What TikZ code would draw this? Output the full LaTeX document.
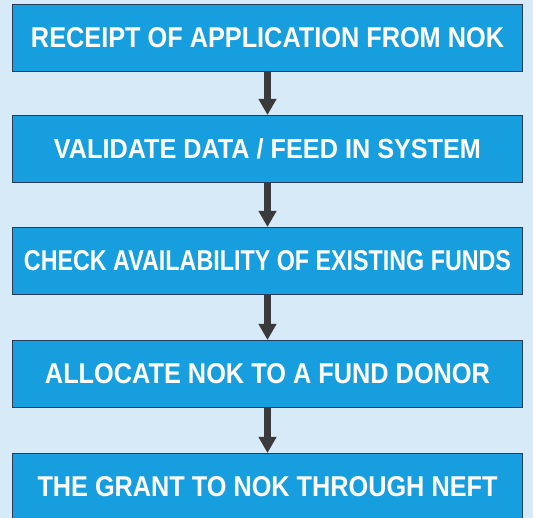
\documentclass[tikz,border=0pt]{standalone}
\usepackage{fontspec}
\setmainfont{Liberation Sans}
\usepackage{graphicx}
\usetikzlibrary{arrows.meta}
\definecolor{bgblue}{RGB}{214,234,247}
\definecolor{boxblue}{RGB}{22,158,222}
\definecolor{boxedge}{RGB}{40,60,90}
\definecolor{arrowgray}{RGB}{58,58,58}
\newcommand{\fittext}[2]{\resizebox{#1}{20pt}{\bfseries #2}}
\begin{document}
\begin{tikzpicture}[x=1pt,y=1pt,
  stepbox/.style={draw=boxedge, line width=1pt, fill=boxblue, text=white,
    minimum width=510pt, minimum height=67pt, inner sep=0pt, anchor=north west},
  flowarrow/.style={draw=arrowgray, line width=7pt,
    -{Triangle[width=17pt,length=16pt]}, shorten >=0pt}
]
\useasboundingbox (0,0) rectangle (533,-518);
\clip (0,0) rectangle (533,-518);
\fill[bgblue] (0,0) rectangle (533,-518);
\node[stepbox] (b1) at (12,-4)   {\fittext{473pt}{RECEIPT OF APPLICATION FROM NOK}};
\node[stepbox] (b2) at (12,-115) {\fittext{427pt}{VALIDATE DATA / FEED IN SYSTEM}};
\node[stepbox] (b3) at (12,-227) {\fittext{487pt}{CHECK AVAILABILITY OF EXISTING FUNDS}};
\node[stepbox] (b4) at (12,-340) {\fittext{445pt}{ALLOCATE NOK TO A FUND DONOR}};
\node[stepbox] (b5) at (12,-453) {\fittext{460pt}{THE GRANT TO NOK THROUGH NEFT}};
\draw[flowarrow] (b1.south) -- (b2.north);
\draw[flowarrow] (b2.south) -- (b3.north);
\draw[flowarrow] (b3.south) -- (b4.north);
\draw[flowarrow] (b4.south) -- (b5.north);
\end{tikzpicture}
\end{document}
